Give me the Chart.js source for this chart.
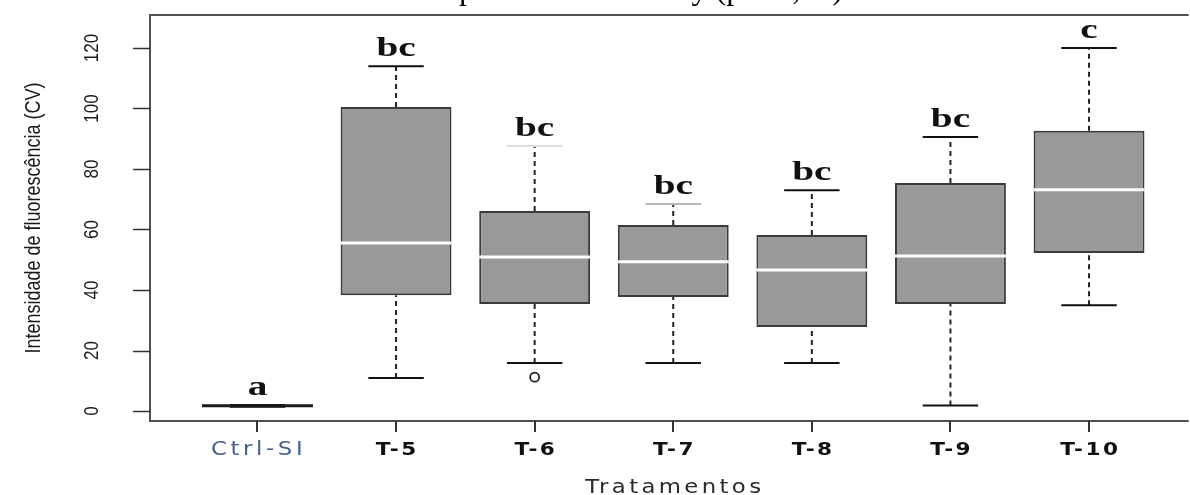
<!DOCTYPE html>
<html><head><meta charset="utf-8">
<script src="https://cdn.jsdelivr.net/npm/chart.js@4.4.1/dist/chart.umd.min.js"></script>
<style>html,body{margin:0;padding:0;background:#fff;overflow:hidden}canvas{display:block}</style>
</head><body>
<canvas id="c" width="1190" height="495"></canvas>
<script>
// ---- data ----
const categories = ['Ctrl-SI', 'T-5', 'T-6', 'T-7', 'T-8', 'T-9', 'T-10'];
const whiskerLow  = [1.4, 10.9, 15.9, 15.9, 15.9, 1.8, 35.0];
const q1          = [1.5, 38.3, 35.4, 37.7, 27.8, 35.4, 52.2];
const median      = [1.7, 55.5, 50.9, 49.3, 46.6, 51.2, 73.1];
const q3          = [1.9, 100.5, 66.1, 61.5, 58.2, 75.4, 92.6];
const whiskerHigh = [2.0, 114.0, 87.6, 68.4, 73.0, 90.6, 120.0];
const outliers    = [{cat: 'T-6', value: 11.2}];
const letters     = ['a', 'bc', 'bc', 'bc', 'bc', 'bc', 'c'];
const yTicks      = [0, 20, 40, 60, 80, 100, 120];
const yTitle = 'Intensidade de fluorescência (CV)';
const xTitle = 'Tratamentos';
const topTitle = 'Análise pelo teste de Tukey (p < 0,05)';

// ---- styles ----
const medianColors = ['#1a1a1a', '#ffffff', '#ffffff', '#ffffff', '#ffffff', '#ffffff', '#ffffff'];
const upperCapColors = ['#111', '#111', '#dcdcdc', '#b8b8b8', '#111', '#111', '#111'];
const labelColors = ['#46618a', '#111', '#111', '#111', '#111', '#111', '#111'];
const halfBox = 0.4, halfCap = 0.2;

const pos = categories.map((c, i) => i + 1);

function segPts(fn) {
  const pts = [];
  categories.forEach((c, i) => { fn(i).forEach(p => pts.push(p)); pts.push({x: pos[i], y: null}); });
  return pts;
}
const catOfIdx = idx => Math.floor(idx / 3);

const whiskerData = [];
categories.forEach((c, i) => {
  whiskerData.push({x: pos[i], y: q3[i]}, {x: pos[i], y: whiskerHigh[i]}, {x: pos[i], y: null});
  whiskerData.push({x: pos[i], y: whiskerLow[i]}, {x: pos[i], y: q1[i]}, {x: pos[i], y: null});
});
const upperCapData = segPts(i => [{x: pos[i] - halfCap, y: whiskerHigh[i]}, {x: pos[i] + halfCap, y: whiskerHigh[i]}]);
const lowerCapData = segPts(i => [{x: pos[i] - halfCap, y: whiskerLow[i]}, {x: pos[i] + halfCap, y: whiskerLow[i]}]);
const medianData = segPts(i => [{x: pos[i] - halfBox, y: median[i]}, {x: pos[i] + halfBox, y: median[i]}]);

const decor = {
  id: 'decor',
  afterDatasetsDraw(chart) {
    const {ctx, chartArea: a, scales: {x, y}} = chart;
    ctx.save();
    // frame
    ctx.strokeStyle = '#505050'; ctx.lineWidth = 2;
    ctx.beginPath();
    ctx.moveTo(a.right + 5, a.top); ctx.lineTo(a.left, a.top);
    ctx.lineTo(a.left, a.bottom); ctx.lineTo(a.right + 5, a.bottom);
    ctx.stroke();
    // y ticks
    ctx.strokeStyle = '#333'; ctx.lineWidth = 1.5;
    yTicks.forEach(v => {
      const py = Math.round(y.getPixelForValue(v)) + 0.5;
      ctx.beginPath(); ctx.moveTo(a.left - 17, py); ctx.lineTo(a.left, py); ctx.stroke();
    });
    // y tick labels (rotated)
    ctx.fillStyle = '#1a1a1a';
    ctx.font = '17px "Liberation Sans", Arial, sans-serif';
    ctx.textAlign = 'center'; ctx.textBaseline = 'middle';
    yTicks.forEach(v => {
      const py = y.getPixelForValue(v);
      ctx.save(); ctx.translate(a.left - 58, py); ctx.rotate(-Math.PI / 2); ctx.scale(1, 1.22);
      ctx.fillText(String(v), 0, 0); ctx.restore();
    });
    // y title
    ctx.save();
    ctx.font = '18px "Liberation Sans", Arial, sans-serif';
    ctx.translate(34, (a.top + a.bottom) / 2); ctx.rotate(-Math.PI / 2); ctx.scale(1, 1.2);
    ctx.fillText(yTitle, 0, 0); ctx.restore();
    // x ticks
    ctx.strokeStyle = '#333'; ctx.lineWidth = 2;
    pos.forEach(p => {
      const px = Math.round(x.getPixelForValue(p));
      ctx.beginPath(); ctx.moveTo(px, a.bottom); ctx.lineTo(px, a.bottom + 11); ctx.stroke();
    });
    // x labels
    categories.forEach((c, i) => {
      const px = x.getPixelForValue(pos[i]);
      ctx.save(); ctx.translate(px, 450); ctx.scale(1.2, 1);
      if (i === 0) { ctx.font = '19px "DejaVu Sans", sans-serif'; ctx.letterSpacing = '3px'; }
      else { ctx.font = 'bold 18px "DejaVu Sans", sans-serif'; ctx.letterSpacing = '2px'; }
      ctx.fillStyle = labelColors[i];
      ctx.fillText(c, 1, 0); ctx.restore();
    });
    // x title
    ctx.save(); ctx.translate((x.getPixelForValue(x.min) + x.getPixelForValue(pos[pos.length - 1] + 0.78)) / 2, 488);
    ctx.scale(1.2, 1); ctx.font = '19px "DejaVu Sans", sans-serif'; ctx.letterSpacing = '2.8px';
    ctx.fillStyle = '#2a2a2a'; ctx.fillText(xTitle, 1, 0); ctx.restore();
    // significance letters
    ctx.fillStyle = '#111'; ctx.textBaseline = 'alphabetic';
    ctx.font = 'bold 28px "Liberation Serif", "Times New Roman", serif';
    letters.forEach((l, i) => {
      const px = x.getPixelForValue(pos[i]);
      const py = y.getPixelForValue(whiskerHigh[i]) - 10;
      ctx.save(); ctx.translate(px, py); ctx.scale(1.4, 1); ctx.fillText(l, 0, 0); ctx.restore();
    });
    // clipped top title (only descenders fall inside the page)
    ctx.font = '32px "Liberation Serif", "Times New Roman", serif';
    ctx.fillStyle = '#000';
    ctx.textBaseline = 'alphabetic';
    ctx.fillText(topTitle, 598, -1);
    ctx.restore();
  }
};

new Chart(document.getElementById('c'), {
  type: 'bar',
  data: {
    datasets: [
      {
        type: 'bar', label: 'box', order: 2,
        data: categories.map((c, i) => ({x: pos[i], y: [q1[i], q3[i]]})),
        backgroundColor: '#999999', borderColor: '#3a3a3a', borderWidth: 2,
        borderSkipped: false, barPercentage: 0.8, categoryPercentage: 1.0
      },
      {
        type: 'line', label: 'whiskers', order: 3, data: whiskerData,
        borderColor: '#222', borderWidth: 2, borderDash: [5, 4], pointRadius: 0, spanGaps: false, fill: false
      },
      {
        type: 'line', label: 'upper caps', order: 1, data: upperCapData,
        borderColor: '#111', borderWidth: 2, pointRadius: 0, spanGaps: false, fill: false,
        segment: {borderColor: ctx => upperCapColors[catOfIdx(ctx.p0DataIndex)]}
      },
      {
        type: 'line', label: 'lower caps', order: 1, data: lowerCapData,
        borderColor: '#111', borderWidth: 2, pointRadius: 0, spanGaps: false, fill: false
      },
      {
        type: 'line', label: 'medians', order: 0, data: medianData,
        borderColor: '#fff', borderWidth: 3, pointRadius: 0, spanGaps: false, fill: false,
        segment: {borderColor: ctx => medianColors[catOfIdx(ctx.p0DataIndex)]}
      },
      {
        type: 'scatter', label: 'outliers', order: 0,
        data: outliers.map(o => ({x: pos[categories.indexOf(o.cat)], y: o.value})),
        pointRadius: 4.5, borderWidth: 1.8, borderColor: '#222', backgroundColor: 'rgba(0,0,0,0)', pointStyle: 'circle'
      }
    ]
  },
  options: {
    responsive: false, animation: false,
    layout: {padding: {left: 150, top: 15, right: 0, bottom: 74}},
    plugins: {legend: {display: false}, tooltip: {enabled: false}, title: {display: false}},
    scales: {
      x: {
        type: 'linear', display: false, min: 0.2247, max: 7.683, offset: false,
        afterBuildTicks: s => { s.ticks = pos.map(v => ({value: v})); }
      },
      y: {type: 'linear', display: false, min: -3.3, max: 130.9}
    }
  },
  plugins: [decor]
});
</script>
</body></html>
